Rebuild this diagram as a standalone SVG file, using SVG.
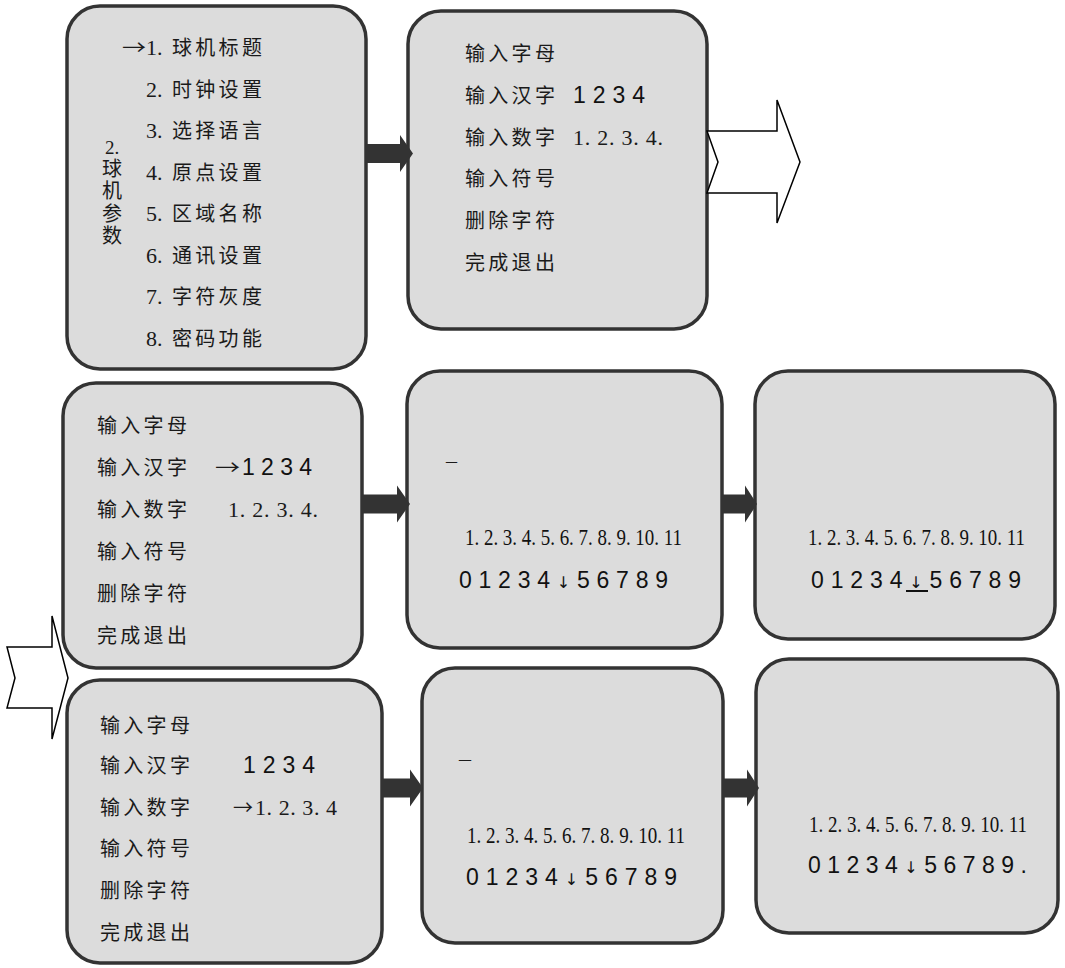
<svg xmlns="http://www.w3.org/2000/svg" width="1065" height="968" viewBox="0 0 1065 968">
<style>
.box{fill:#dcdcdc;stroke:#333;stroke-width:3.5}
.cn{font-family:"Noto Sans CJK SC",sans-serif;font-size:20px;letter-spacing:3.3px;fill:#1a1a1a}
.vt{font-family:"Noto Sans CJK SC",sans-serif;font-size:20px;letter-spacing:2.5px;fill:#1a1a1a;writing-mode:vertical-rl}
.arw{font-family:"Noto Sans CJK SC",sans-serif;font-size:20px;fill:#1a1a1a}
.sr{font-family:"Liberation Serif",serif;font-size:22px;fill:#1a1a1a}
.ar{font-family:"Liberation Sans",Arial,sans-serif;font-size:23px;fill:#111}
.dn{font-family:"DejaVu Sans",sans-serif;font-size:16px;fill:#111}
.cd{font-family:"Liberation Serif",serif;font-size:24px;fill:#111}
.dk{fill:#333}
.open{fill:#fff;stroke:#000;stroke-width:1.5;stroke-linejoin:miter}
</style>
<rect width="1065" height="968" fill="#fff"/>
<g id="node1">
<rect class="box" x="67" y="6" width="299" height="363" rx="33"/>
<text class="arw" x="122" y="55" textLength="24" lengthAdjust="spacingAndGlyphs">→</text>
<text class="sr" x="146" y="55">1.</text><text class="cn" x="172" y="55">球机标题</text>
<text class="sr" x="146" y="96.5">2.</text><text class="cn" x="172" y="96.5">时钟设置</text>
<text class="sr" x="146" y="138">3.</text><text class="cn" x="172" y="138">选择语言</text>
<text class="sr" x="146" y="179.5">4.</text><text class="cn" x="172" y="179.5">原点设置</text>
<text class="sr" x="146" y="221">5.</text><text class="cn" x="172" y="221">区域名称</text>
<text class="sr" x="146" y="262.5">6.</text><text class="cn" x="172" y="262.5">通讯设置</text>
<text class="sr" x="146" y="304">7.</text><text class="cn" x="172" y="304">字符灰度</text>
<text class="sr" x="146" y="345.5">8.</text><text class="cn" x="172" y="345.5">密码功能</text>
<text class="sr" x="105" y="154" style="font-size:19px">2.</text>
<text class="vt" x="112" y="158">球机参数</text>
</g>
<g id="node2">
<rect class="box" x="408" y="11" width="299" height="318" rx="33"/>
<text class="cn" x="465" y="61">输入字母</text>
<text class="cn" x="465" y="103">输入汉字</text><text class="ar" x="573" y="103" textLength="72" lengthAdjust="spacing">1 2 3 4</text>
<text class="cn" x="465" y="145">输入数字</text><text class="sr" x="573" y="145" textLength="90" lengthAdjust="spacing">1. 2. 3. 4.</text>
<text class="cn" x="465" y="186">输入符号</text>
<text class="cn" x="465" y="228">删除字符</text>
<text class="cn" x="465" y="270">完成退出</text>
</g>
<g id="node3">
<rect class="box" x="63" y="383" width="299" height="285" rx="33"/>
<text class="cn" x="97" y="433">输入字母</text>
<text class="cn" x="97" y="475">输入汉字</text><text class="arw" x="215" y="475" textLength="25" lengthAdjust="spacingAndGlyphs">→</text><text class="ar" x="242" y="475" textLength="70" lengthAdjust="spacing">1 2 3 4</text>
<text class="cn" x="97" y="517">输入数字</text><text class="sr" x="228" y="517" textLength="90" lengthAdjust="spacing">1. 2. 3. 4.</text>
<text class="cn" x="97" y="559">输入符号</text>
<text class="cn" x="97" y="601">删除字符</text>
<text class="cn" x="97" y="643">完成退出</text>
</g>
<g id="node4">
<rect class="box" x="407" y="371" width="315" height="277" rx="33"/>
<text class="sr" x="446" y="461" textLength="11" lengthAdjust="spacingAndGlyphs" style="font-size:16px">_</text>
<text class="cd" transform="translate(465,545) scale(0.789,1)">1. 2. 3. 4. 5. 6. 7. 8. 9. 10. 11</text>
<text class="ar" x="459" y="588" textLength="209" lengthAdjust="spacing">01234<tspan class="dn">↓</tspan>56789</text>
</g>
<g id="node5">
<rect class="box" x="755" y="371" width="300" height="268" rx="33"/>
<text class="cd" transform="translate(808,545) scale(0.789,1)">1. 2. 3. 4. 5. 6. 7. 8. 9. 10. 11</text>
<text class="ar" x="811" y="588" textLength="210" lengthAdjust="spacing">01234<tspan class="dn">↓</tspan>56789</text>
<line x1="906" y1="591" x2="928" y2="591" stroke="#111" stroke-width="2"/>
</g>
<g id="node6">
<rect class="box" x="67" y="680" width="315" height="283" rx="33"/>
<text class="cn" x="100" y="733">输入字母</text>
<text class="cn" x="100" y="773">输入汉字</text><text class="ar" x="243" y="773" textLength="72" lengthAdjust="spacing">1 2 3 4</text>
<text class="cn" x="100" y="815">输入数字</text><text class="arw" x="233" y="815" textLength="20" lengthAdjust="spacingAndGlyphs">→</text><text class="sr" x="255" y="815" textLength="82" lengthAdjust="spacing">1. 2. 3. 4</text>
<text class="cn" x="100" y="856">输入符号</text>
<text class="cn" x="100" y="898">删除字符</text>
<text class="cn" x="100" y="940">完成退出</text>
</g>
<g id="node7">
<rect class="box" x="422" y="668" width="301" height="275" rx="33"/>
<text class="sr" x="459" y="759" textLength="12" lengthAdjust="spacingAndGlyphs" style="font-size:16px">_</text>
<text class="cd" transform="translate(467,843) scale(0.793,1)">1. 2. 3. 4. 5. 6. 7. 8. 9. 10. 11</text>
<text class="ar" x="466" y="885" textLength="211" lengthAdjust="spacing">01234<tspan class="dn">↓</tspan>56789</text>
</g>
<g id="node8">
<rect class="box" x="756" y="659" width="302" height="274" rx="33"/>
<text class="cd" transform="translate(809,832) scale(0.793,1)">1. 2. 3. 4. 5. 6. 7. 8. 9. 10. 11</text>
<text class="ar" x="808" y="873" textLength="219" lengthAdjust="spacing">01234<tspan class="dn">↓</tspan>56789.</text>
</g>
<g id="connectors">
<path class="dk" d="M366,144 H400 V135 L413,153.5 L400,172 V163 H366 Z"/>
<path class="dk" d="M362,494.5 H397 V485.5 L410,504 L397,522.5 V513.5 H362 Z"/>
<path class="dk" d="M722,494.5 H745 V485.5 L757,504 L745,522.5 V513.5 H722 Z"/>
<path class="dk" d="M382,778.5 H410 V769.5 L423,788 L410,806.5 V797.5 H382 Z"/>
<path class="dk" d="M723,778.5 H747 V769.5 L759,788 L747,806.5 V797.5 H723 Z"/>
<path class="open" d="M707,131 H777 V100 L800,162 L777,223 V193 H707 L718,162 Z"/>
<path class="open" d="M7,647 H52 V616 L68,678 L52,739 V708 H7 L15,678 Z"/>
</g>
</svg>
